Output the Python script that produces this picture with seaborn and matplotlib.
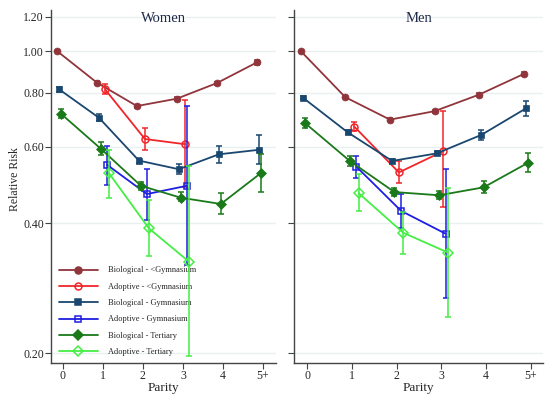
import numpy as np
import pandas as pd
import seaborn as sns
import matplotlib.pyplot as plt
from matplotlib.lines import Line2D

# parity categories
parity_labels = ['0', '1', '2', '3', '4', '5+']
bio_parity = [0, 1, 2, 3, 4, 5]
adopt_parity = [1, 2, 3]

series_names = ['Biological - <Gymnasium', 'Adoptive - <Gymnasium',
                'Biological - Gymnasium', 'Adoptive - Gymnasium',
                'Biological - Tertiary', 'Adoptive - Tertiary']

# Women: estimate, lower, upper
w_bio_lt_gym = [1.00, 0.845, 0.746, 0.776, 0.843, 0.941]
w_bio_lt_gym_lo = [1.00, 0.838, 0.740, 0.770, 0.836, 0.928]
w_bio_lt_gym_hi = [1.00, 0.852, 0.752, 0.782, 0.850, 0.955]
w_ado_lt_gym = [0.816, 0.626, 0.609]
w_ado_lt_gym_lo = [0.794, 0.591, 0.486]
w_ado_lt_gym_hi = [0.838, 0.663, 0.771]
w_bio_gym = [0.816, 0.701, 0.558, 0.533, 0.577, 0.591]
w_bio_gym_lo = [0.803, 0.690, 0.550, 0.519, 0.551, 0.547]
w_bio_gym_hi = [0.826, 0.714, 0.567, 0.547, 0.604, 0.641]
w_ado_gym = [0.546, 0.467, 0.488]
w_ado_gym_lo = [0.491, 0.406, 0.320]
w_ado_gym_hi = [0.604, 0.534, 0.746]
w_bio_tert = [0.716, 0.594, 0.488, 0.458, 0.443, 0.522]
w_bio_tert_lo = [0.699, 0.574, 0.478, 0.449, 0.420, 0.473]
w_bio_tert_hi = [0.735, 0.615, 0.498, 0.472, 0.469, 0.577]
w_ado_tert = [0.522, 0.389, 0.326]
w_ado_tert_lo = [0.457, 0.336, 0.197]
w_ado_tert_hi = [0.591, 0.453, 0.542]

# Men
m_bio_lt_gym = [1.00, 0.782, 0.694, 0.726, 0.793, 0.885]
m_bio_lt_gym_lo = [1.00, 0.777, 0.689, 0.720, 0.787, 0.875]
m_bio_lt_gym_hi = [1.00, 0.787, 0.699, 0.732, 0.799, 0.895]
m_ado_lt_gym = [0.669, 0.524, 0.587]
m_ado_lt_gym_lo = [0.652, 0.495, 0.436]
m_ado_lt_gym_hi = [0.687, 0.556, 0.726]
m_bio_gym = [0.780, 0.649, 0.557, 0.580, 0.640, 0.737]
m_bio_gym_lo = [0.773, 0.642, 0.551, 0.574, 0.623, 0.709]
m_bio_gym_hi = [0.787, 0.656, 0.563, 0.586, 0.657, 0.767]
m_ado_gym = [0.540, 0.427, 0.378]
m_ado_gym_lo = [0.510, 0.389, 0.269]
m_ado_gym_hi = [0.572, 0.467, 0.533]
m_bio_tert = [0.681, 0.557, 0.472, 0.464, 0.484, 0.552]
m_bio_tert_lo = [0.663, 0.542, 0.462, 0.454, 0.469, 0.524]
m_bio_tert_hi = [0.699, 0.572, 0.482, 0.474, 0.500, 0.582]
m_ado_tert = [0.469, 0.380, 0.342]
m_ado_tert_lo = [0.427, 0.339, 0.243]
m_ado_tert_hi = [0.519, 0.425, 0.482]

ytick_vals = [0.20, 0.40, 0.60, 0.80, 1.00, 1.20]

panels = {
    'Women': [(w_bio_lt_gym, w_bio_lt_gym_lo, w_bio_lt_gym_hi),
              (w_ado_lt_gym, w_ado_lt_gym_lo, w_ado_lt_gym_hi),
              (w_bio_gym, w_bio_gym_lo, w_bio_gym_hi),
              (w_ado_gym, w_ado_gym_lo, w_ado_gym_hi),
              (w_bio_tert, w_bio_tert_lo, w_bio_tert_hi),
              (w_ado_tert, w_ado_tert_lo, w_ado_tert_hi)],
    'Men': [(m_bio_lt_gym, m_bio_lt_gym_lo, m_bio_lt_gym_hi),
            (m_ado_lt_gym, m_ado_lt_gym_lo, m_ado_lt_gym_hi),
            (m_bio_gym, m_bio_gym_lo, m_bio_gym_hi),
            (m_ado_gym, m_ado_gym_lo, m_ado_gym_hi),
            (m_bio_tert, m_bio_tert_lo, m_bio_tert_hi),
            (m_ado_tert, m_ado_tert_lo, m_ado_tert_hi)],
}

# style per series: colour, marker, filled, x offset
styles = [
    ('#90353b', 'o', True, -0.15),
    ('#f0262a', 'o', False, 0.05),
    ('#1a476f', 's', True, -0.10),
    ('#1f1fe0', 's', False, 0.10),
    ('#1a7a1a', 'D', True, -0.05),
    ('#44ee44', 'D', False, 0.15),
]

sns.set_style('white')
plt.rcParams['font.family'] = ['Liberation Serif', 'DejaVu Serif']

fig = plt.figure(figsize=(5.53, 4.03), dpi=100)
fig.patch.set_facecolor('white')
W, H = 553, 403
ax_w = fig.add_axes([51 / W, 40 / H, 225 / W, 353 / H])
ax_m = fig.add_axes([294 / W, 40 / H, 249 / W, 353 / H])

handles = []
for ax, (title, series) in zip([ax_w, ax_m], panels.items()):
    for i, ((est, lo, hi), (col, mk, filled, off)) in enumerate(zip(series, styles)):
        par = bio_parity if len(est) == 6 else adopt_parity
        df = pd.DataFrame({'x': np.array(par) + off, 'rr': est,
                           'lo': lo, 'hi': hi})
        ax.errorbar(df['x'], df['rr'], yerr=[df['rr'] - df['lo'], df['hi'] - df['rr']],
                    fmt='none', ecolor=col, elinewidth=1.1, capsize=2.5,
                    capthick=1.1, zorder=2 + i)
        sns.lineplot(data=df, x='x', y='rr', ax=ax, color=col, marker=mk,
                     markersize=5 if mk != 'D' else 5.5,
                     markerfacecolor=col if filled else 'none',
                     markeredgecolor=col, markeredgewidth=1.1 if not filled else 0.5,
                     linewidth=1.3, zorder=3 + i, legend=False)
        if title == 'Women':
            handles.append(Line2D([], [], color=col, marker=mk, lw=1.3,
                                  markersize=5 if mk != 'D' else 5.5,
                                  markerfacecolor=col if filled else 'none',
                                  markeredgecolor=col, markeredgewidth=1.1))

    ax.set_yscale('log')
    ax.set_ylim(0.19, 1.244)
    ax.set_yticks(ytick_vals)
    ax.set_yticklabels(['%.2f' % v for v in ytick_vals])
    ax.yaxis.set_minor_locator(plt.NullLocator())
    ax.set_xlim(-0.3, 5.33 if title == 'Women' else 5.28)
    ax.set_xticks(bio_parity)
    ax.set_xticklabels(parity_labels)
    ax.grid(axis='y', color='#e8f0f2', lw=1)
    ax.grid(axis='x', visible=False)
    ax.set_axisbelow(True)
    for s in ['top', 'right']:
        ax.spines[s].set_visible(False)
    for s in ['left', 'bottom']:
        ax.spines[s].set_color('#444444')
        ax.spines[s].set_linewidth(1.0)
    ax.tick_params(axis='both', direction='out', length=4, width=0.8,
                   color='#444444', labelsize=8.5, pad=1, left=True, bottom=True)
    ax.set_xlabel('Parity', fontsize=9.5, labelpad=0)
    ax.set_ylabel('')
    ax.text(0.5, 0.995, title, transform=ax.transAxes, ha='center', va='top',
            fontsize=10.5, color='#1e2a4a')

ax_m.tick_params(axis='y', labelleft=False)
ax_w.set_ylabel('Relative Risk', fontsize=8.5, labelpad=2)
ax_w.yaxis.set_label_coords(-0.135, 0.52)

ax_w.legend(handles, series_names, loc='lower left', bbox_to_anchor=(0.02, 0.01),
            frameon=False, fontsize=6, handlelength=4.7, handletextpad=1.2,
            labelspacing=1.0, borderaxespad=0)

fig.savefig('out.png', dpi=100, facecolor='white')
